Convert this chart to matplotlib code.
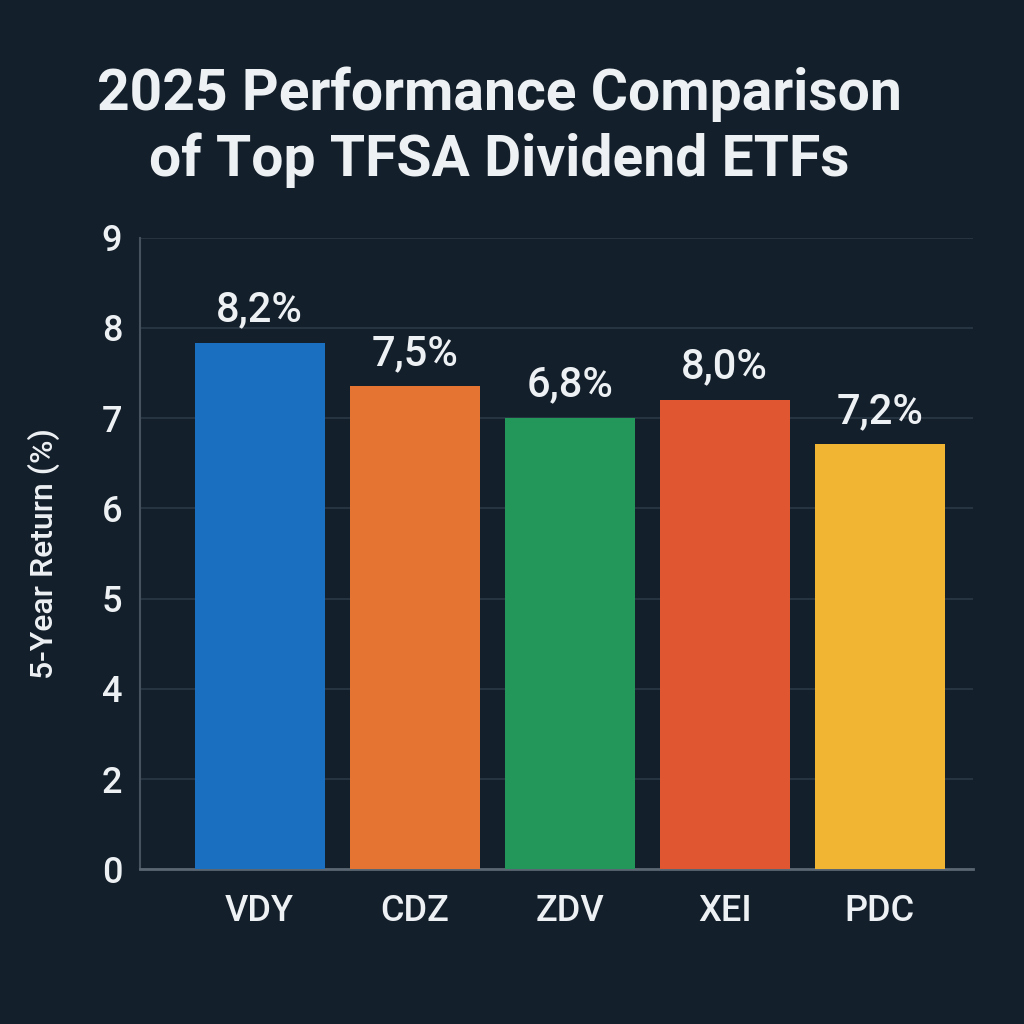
import numpy as np
import matplotlib
matplotlib.use("Agg")
import matplotlib.pyplot as plt

# data
etfs = ["VDY", "CDZ", "ZDV", "XEI", "PDC"]
bar_heights = [7.83, 7.35, 7.0, 7.2, 6.71]   # where the bar tops sit on the axis
shown_labels = ["8,2%", "7,5%", "6,8%", "8,0%", "7,2%"]
tick_values = [0, 2, 4, 5, 6, 7, 8, 9]
colors = ["#1a6fc0", "#e57433", "#23965a", "#e05631", "#f2b433"]

bg = "#131f2b"
txt = "#eef1f4"

plt.rcParams['font.family'] = ['Roboto', 'DejaVu Sans']

# the axis ticks are evenly spaced even though the values are not
tick_pos = np.arange(len(tick_values))
def forward(v):
    return np.interp(v, tick_values, tick_pos)
def inverse(p):
    return np.interp(p, tick_pos, tick_values)

fig = plt.figure(figsize=(10.24, 10.24), dpi=100, facecolor=bg)
ax = fig.add_axes([0.137, 0.151, 0.813, 0.617])
ax.set_facecolor(bg)
ax.set_yscale('function', functions=(forward, inverse))

x = np.arange(len(etfs))
bars = ax.bar(x, bar_heights, width=0.84, color=colors, zorder=3)
for b, lab in zip(bars, shown_labels):
    ax.annotate(lab, (b.get_x() + b.get_width() / 2, b.get_height()),
                xytext=(0, 9), textcoords="offset points",
                ha="center", va="bottom", color=txt, fontsize=30,
                fontweight="medium")

ax.set_ylim(0, 9)
ax.set_xlim(-0.77, 4.6)
ax.set_yticks(tick_values)
ax.set_yticklabels([str(t) for t in tick_values])
ax.set_xticks(x)
ax.set_xticklabels(etfs)
ax.tick_params(axis="y", length=0, pad=13, labelsize=26, colors=txt)
ax.tick_params(axis="x", length=0, pad=18, labelsize=26, colors=txt)
for lab in ax.get_xticklabels() + ax.get_yticklabels():
    lab.set_fontweight("medium")
ax.yaxis.grid(True, color="#2a3845", linewidth=1.2, zorder=0)

for s in ["top", "right"]:
    ax.spines[s].set_visible(False)
ax.spines["left"].set_color("#46525e")
ax.spines["left"].set_linewidth(1.5)
ax.spines["bottom"].set_color("#5a6672")
ax.spines["bottom"].set_linewidth(2)

ax.set_ylabel("5-Year Return (%)", color=txt, fontsize=23, labelpad=30,
              fontweight="medium")

fig.text(0.488, 0.876, "2025 Performance Comparison\nof Top TFSA Dividend ETFs",
         ha="center", va="center", color=txt, fontsize=41, fontweight="bold",
         linespacing=1.25)

fig.savefig("out.png", dpi=100, facecolor=bg)
